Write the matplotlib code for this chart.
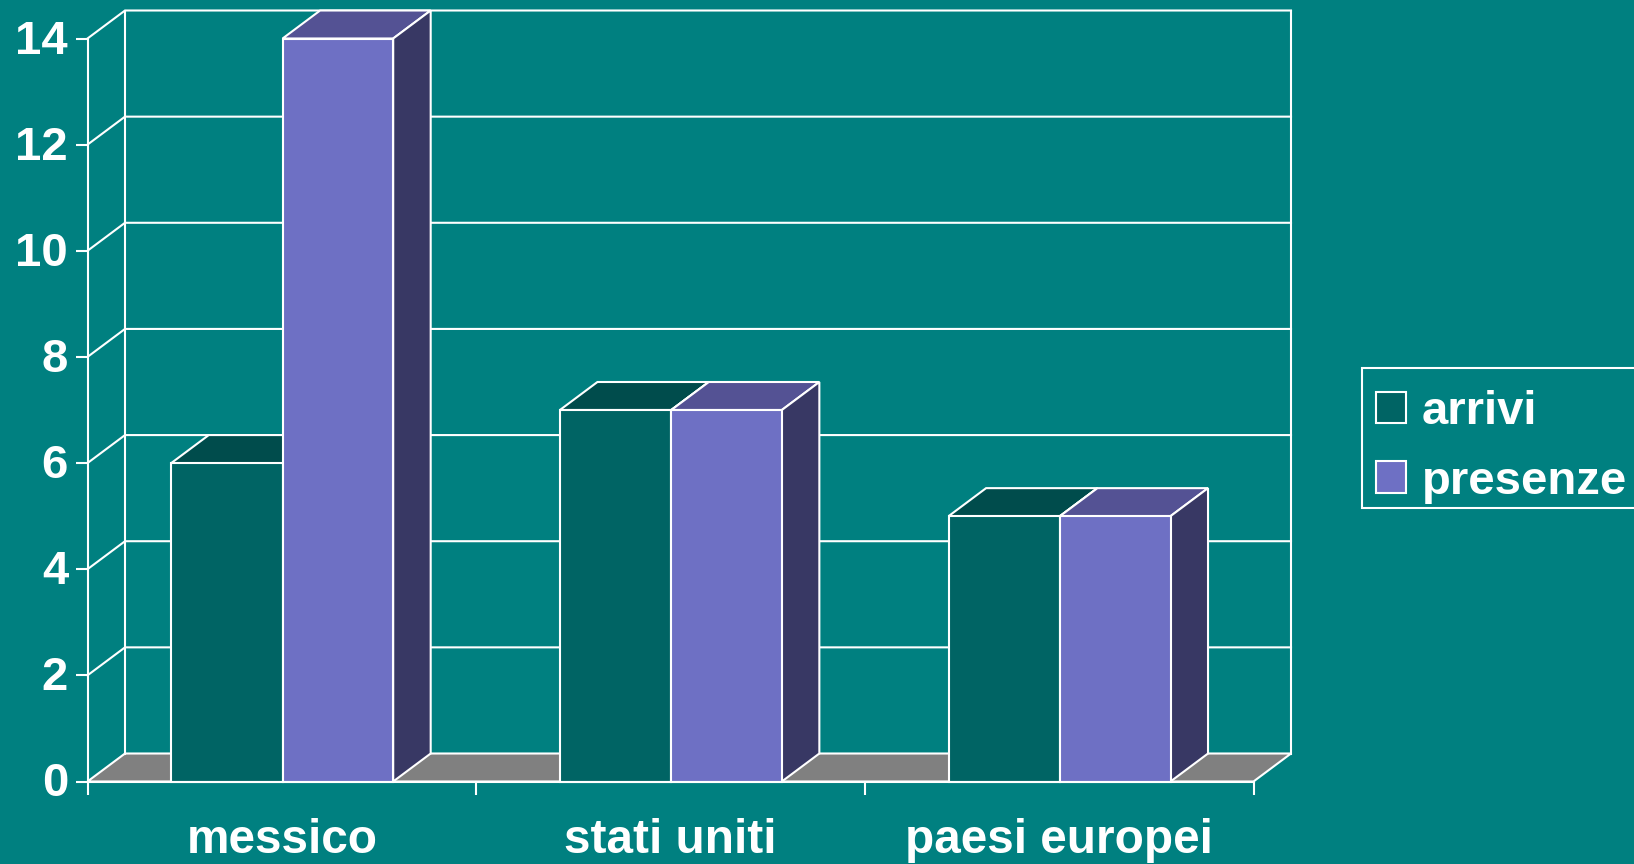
import matplotlib
matplotlib.use('Agg')
import matplotlib.pyplot as plt
from matplotlib.patches import Rectangle
from matplotlib.transforms import ScaledTranslation

plt.rcParams['font.family'] = ['Liberation Sans', 'DejaVu Sans']
plt.rcParams['font.weight'] = 'bold'

# data
categories = ['messico', 'stati uniti', 'paesi europei']
arrivi = [6, 7, 5]
presenze = [14, 7, 5]
y_ticks = [0, 2, 4, 6, 8, 10, 12, 14]

BG = '#008080'
W = 1634
H = 864
LW = 1.5

fig = plt.figure(figsize=(W / 100, H / 100), dpi=100, facecolor=BG)
# axes box is the front plane of the 3d chart
left, right, top, bottom = 87.5, 1253.5, 38.5, 781.5
ax = fig.add_axes([left / W, 1 - bottom / H, (right - left) / W, (bottom - top) / H])
ax.set_facecolor('none')
ax.set_xlim(0, 3)
ax.set_ylim(0, 14)

# depth of the fake 3d in data units
dx = 37.5 / (right - left) * 3
dy = 28 / (bottom - top) * 14

# floor
ax.fill([0, 3, 3 + dx, dx], [0, 0, dy, dy], facecolor='#808080', edgecolor='white',
        lw=LW, zorder=1, clip_on=False)

# walls and grid
for v in y_ticks[1:]:
    ax.plot([0, dx, 3 + dx], [v, v + dy, v + dy], color='white', lw=LW, zorder=1,
            clip_on=False, solid_joinstyle='miter')
ax.plot([dx, dx], [dy, 14 + dy], color='white', lw=LW, zorder=1, clip_on=False)
ax.plot([3 + dx, 3 + dx], [dy, 14 + dy], color='white', lw=LW, zorder=1, clip_on=False)


def box(x0, width, val, front, side, roof, z):
    x1 = x0 + width
    ax.fill([x0, x1, x1 + dx, x0 + dx], [val, val, val + dy, val + dy],
            facecolor=roof, edgecolor='white', lw=LW, zorder=z, clip_on=False)
    ax.fill([x1, x1 + dx, x1 + dx, x1], [0, dy, val + dy, val],
            facecolor=side, edgecolor='white', lw=LW, zorder=z, clip_on=False)
    return ax.bar(x0, val, width, align='edge', color=front, edgecolor='white',
                  lw=LW, zorder=z + 0.5, clip_on=False)


offset = 0.2155
bw1 = 0.2865
bw2 = 0.2845
for i in range(3):
    b1 = box(i + offset, bw1, arrivi[i], '#006464', '#003C3C', '#004C4C', 2 + i)
    b2 = box(i + offset + bw1, bw2, presenze[i], '#6E70C4', '#383864', '#545294', 2.6 + i)

for s in ['top', 'right']:
    ax.spines[s].set_visible(False)
for s in ['left', 'bottom']:
    ax.spines[s].set_color('white')
    ax.spines[s].set_linewidth(LW)
    ax.spines[s].set_zorder(6)

ax.set_yticks(y_ticks)
ax.set_xticks([0, 1, 2, 3])
ax.set_xticklabels([])
ax.tick_params(axis='y', length=9, width=LW, color='white', labelcolor='white',
               labelsize=34, pad=5)
ax.tick_params(axis='x', length=9.5, width=LW, color='white')
# labels sit a little higher than matplotlib centres them
up = ScaledTranslation(0, 2 / 100, fig.dpi_scale_trans)
for lab in ax.get_yticklabels():
    lab.set_transform(lab.get_transform() + up)
for i, c in enumerate(categories):
    ax.text(i + 0.5, -1.35, c, color='white', fontsize=34.4, ha='center', va='baseline',
            clip_on=False)

# legend frame runs off the right edge in the reference
fig.add_artist(Rectangle((1361.5 / W, 1 - 508 / H), 300 / W, 140 / H, facecolor=BG,
                         edgecolor='white', lw=LW, transform=fig.transFigure, zorder=-1))
leg = ax.legend([b1, b2], ['arrivi', 'presenze'], loc='upper left',
                bbox_to_anchor=(1361.5 / W, 1 - 376 / H), bbox_transform=fig.transFigure,
                borderaxespad=0, fontsize=34, frameon=False, labelcolor='white',
                handlelength=0.65, handleheight=0.65, handletextpad=0.33,
                labelspacing=0.54, borderpad=0.3)

fig.savefig('out.png', dpi=100, facecolor=BG)
